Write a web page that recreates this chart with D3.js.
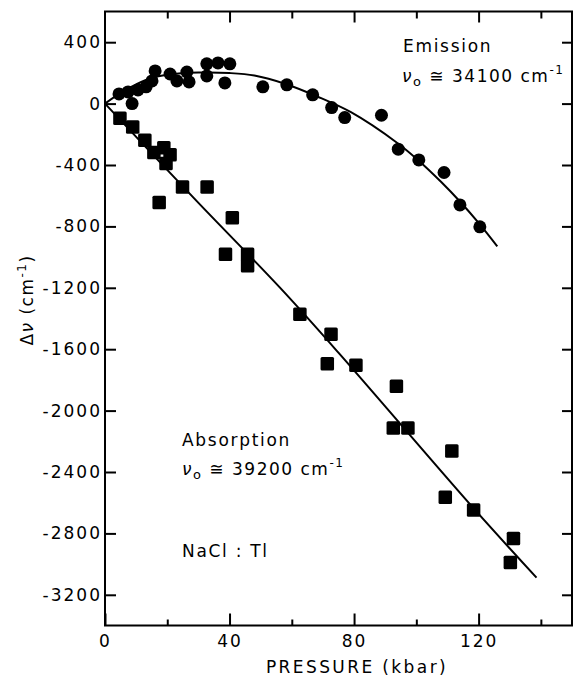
<!DOCTYPE html>
<html lang="en">
    <head>
        <meta charset="utf-8">
        <title>NaCl:Tl emission and absorption shift</title>
        <script type="text/javascript" src="https://cdn.jsdelivr.net/npm/d3@7"></script>
        <style>
            body { margin: 0; background: #fff; }
            text { font-family: "DejaVu Sans", sans-serif; fill: #000; }
        </style>
    </head>
    <body>
        <script type="text/javascript">

            //Width and height
            var w = 574;
            var h = 677;

            //Emission points (pressure kbar, shift cm-1)
            var emissionP = [4.5, 8.7, 7.4, 10.6, 13.2, 15.1, 16.1, 20.9, 23.1, 26.3, 27.0, 32.7, 32.7, 36.3, 40.1, 38.5, 50.7, 58.4, 66.7, 72.8, 77.0, 88.8, 94.2, 100.8, 108.9, 114.0, 120.4];
            var emissionShift = [63, 0, 76, 89, 109, 148, 213, 193, 148, 206, 141, 259, 180, 265, 259, 135, 109, 122, 57, -26, -91, -76, -297, -367, -449, -660, -803];

            //Absorption points
            var absorptionP = [4.8, 8.9, 12.8, 15.7, 18.9, 20.9, 19.6, 24.9, 32.8, 17.4, 40.9, 38.7, 45.8, 45.8, 62.6, 72.6, 71.4, 80.6, 93.6, 92.6, 97.3, 111.4, 109.3, 118.4, 131.2, 130.2];
            var absorptionShift = [-95, -152, -238, -319, -287, -334, -391, -543, -543, -645, -743, -981, -981, -1057, -1372, -1502, -1694, -1704, -1842, -2113, -2113, -2263, -2564, -2648, -2834, -2990];

            //Drawn curves
            var emissionCurveP = [0, 5, 10, 15, 20, 30, 40, 48, 58, 68, 79, 94, 100.6, 108, 114, 120, 126];
            var emissionCurveShift = [0, 70, 125, 168, 188, 202, 199, 183, 128, 48, -56, -258, -369, -511, -638, -777, -930];
            var absorptionCurveP = [0, 29.4, 56.2, 75.4, 118.2, 138.6];
            var absorptionCurveShift = [0, -634, -1199, -1632, -2632, -3088];

            //Ticks
            var xMajor = [0, 40, 80, 120];
            var xMinor = [20, 60, 100, 140];
            var yTicks = [400, 0, -400, -800, -1200, -1600, -2000, -2400, -2800, -3200];

            var xScale = d3.scaleLinear().domain([0, 150]).range([105, 572]);
            var yScale = d3.scaleLinear().domain([-3400, 600]).range([625.5, 11.5]);

            var svg = d3.select("body")
                        .append("svg")
                        .attr("width", w)
                        .attr("height", h);

            svg.append("rect")
                .attr("width", w)
                .attr("height", h)
                .attr("fill", "#fff");

            var x0 = xScale(0), x1 = xScale(150), y0 = yScale(-3400), y1 = yScale(600);

            //Plain hyphen for negatives, like the original lettering
            var plain = function(d) { return String(d); };

            //Axes, ticks pointing inward
            function styleAxis(g) {
                g.select(".domain").remove();
                g.selectAll(".tick line").attr("stroke", "#000").attr("stroke-width", 2);
                g.selectAll("text")
                    .attr("font-family", "DejaVu Sans")
                    .attr("font-size", "17px")
                    .attr("letter-spacing", "2px")
                    .attr("fill", "#000");
            }

            svg.append("g")
                .attr("transform", "translate(0," + y0 + ")")
                .call(d3.axisBottom(xScale).tickValues(xMajor).tickSize(-12).tickPadding(9).tickFormat(plain))
                .call(styleAxis);
            svg.append("g")
                .attr("transform", "translate(0," + y0 + ")")
                .call(d3.axisBottom(xScale).tickValues(xMinor).tickSize(-6).tickFormat(""))
                .call(styleAxis);
            svg.append("g")
                .attr("transform", "translate(0," + y1 + ")")
                .call(d3.axisTop(xScale).tickValues(xMajor.slice(1)).tickSize(-11).tickFormat(""))
                .call(styleAxis);
            svg.append("g")
                .attr("transform", "translate(0," + y1 + ")")
                .call(d3.axisTop(xScale).tickValues(xMinor).tickSize(-7).tickFormat(""))
                .call(styleAxis);
            svg.append("g")
                .attr("transform", "translate(" + x0 + ",0)")
                .call(d3.axisLeft(yScale).tickValues(yTicks).tickSize(-11).tickPadding(3).tickFormat(plain))
                .call(styleAxis);
            svg.append("g")
                .attr("transform", "translate(" + x1 + ",0)")
                .call(d3.axisRight(yScale).tickValues(yTicks).tickSize(-10).tickFormat(""))
                .call(styleAxis);

            //Frame
            svg.append("rect")
                .attr("x", x0)
                .attr("y", y1)
                .attr("width", x1 - x0)
                .attr("height", y0 - y1)
                .attr("fill", "none")
                .attr("stroke", "#000")
                .attr("stroke-width", 2);

            //Curves
            var line = d3.line()
                        .x(function(d) { return xScale(d[0]); })
                        .y(function(d) { return yScale(d[1]); })
                        .curve(d3.curveCatmullRom);

            svg.append("path")
                .datum(d3.zip(emissionCurveP, emissionCurveShift))
                .attr("d", line)
                .attr("fill", "none")
                .attr("stroke", "#000")
                .attr("stroke-width", 2);

            svg.append("path")
                .datum(d3.zip(absorptionCurveP, absorptionCurveShift))
                .attr("d", line)
                .attr("fill", "none")
                .attr("stroke", "#000")
                .attr("stroke-width", 2);

            //Markers
            svg.selectAll("circle.em")
                .data(d3.zip(emissionP, emissionShift))
                .enter()
                .append("circle")
                .attr("class", "em")
                .attr("cx", function(d) { return xScale(d[0]); })
                .attr("cy", function(d) { return yScale(d[1]); })
                .attr("r", 6.5)
                .attr("fill", "#000");

            var sq = 13.5;
            svg.selectAll("rect.ab")
                .data(d3.zip(absorptionP, absorptionShift))
                .enter()
                .append("rect")
                .attr("class", "ab")
                .attr("x", function(d) { return xScale(d[0]) - sq / 2; })
                .attr("y", function(d) { return yScale(d[1]) - sq / 2; })
                .attr("width", sq)
                .attr("height", sq)
                .attr("rx", 1.5)
                .attr("fill", "#000");

            //Axis titles
            svg.append("text")
                .attr("x", 357)
                .attr("y", 673)
                .attr("text-anchor", "middle")
                .attr("font-size", "17px")
                .attr("letter-spacing", "2.4px")
                .text("PRESSURE (kbar)");

            var yt = svg.append("text")
                .attr("transform", "translate(33,300) rotate(-90)")
                .attr("text-anchor", "middle")
                .attr("font-size", "17px")
                .attr("letter-spacing", "1.5px");
            yt.append("tspan").text("\u0394");
            yt.append("tspan").attr("font-style", "italic").text("\u03bd");
            yt.append("tspan").text(" (cm");
            yt.append("tspan").attr("font-size", "12px").attr("dy", -7).text("-1");
            yt.append("tspan").attr("dy", 7).text(")");

            //Annotations
            function nuLabel(x, y, value) {
                var t = svg.append("text")
                    .attr("x", x)
                    .attr("y", y)
                    .attr("font-size", "17px")
                    .attr("letter-spacing", "1.5px");
                t.append("tspan").attr("font-style", "italic").text("\u03bd");
                t.append("tspan").attr("font-size", "13px").attr("dy", 4).text("o");
                t.append("tspan").attr("dy", -4).text(" \u2245 " + value + " cm");
                t.append("tspan").attr("font-size", "12px").attr("dy", -8).text("-1");
            }

            svg.append("text")
                .attr("x", 403)
                .attr("y", 52)
                .attr("font-size", "17px")
                .attr("letter-spacing", "1.7px")
                .text("Emission");
            nuLabel(402, 82, "34100");

            svg.append("text")
                .attr("x", 182)
                .attr("y", 446)
                .attr("font-size", "17px")
                .attr("letter-spacing", "1.7px")
                .text("Absorption");
            nuLabel(182, 475, "39200");

            svg.append("text")
                .attr("x", 182)
                .attr("y", 557)
                .attr("font-size", "17px")
                .attr("letter-spacing", "1.7px")
                .text("NaCl : Tl");

        </script>
    </body>
</html>
